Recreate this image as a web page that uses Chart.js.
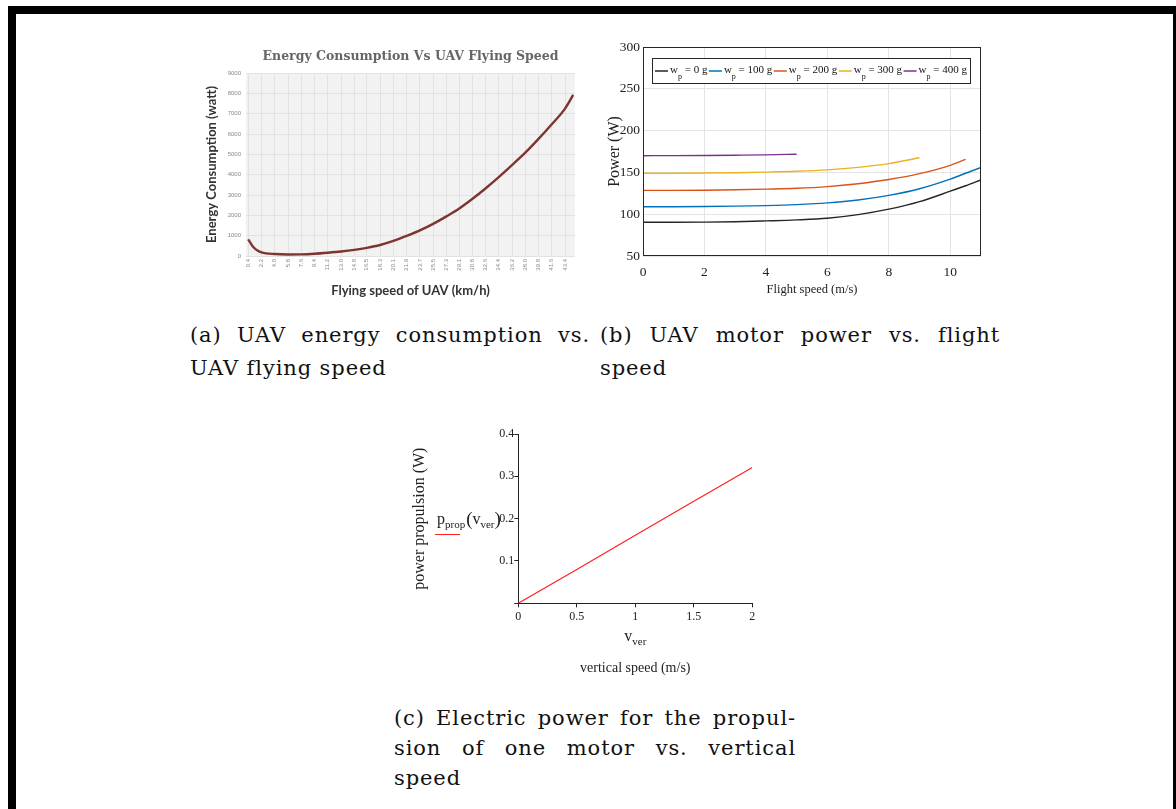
<!DOCTYPE html>
<html lang="en">
<head>
<meta charset="UTF-8">
<title>UAV power figures</title>
<script src="https://cdn.jsdelivr.net/npm/chart.js"></script>
<style>
  body { margin: 0; background: #fff; width: 1176px; height: 809px; overflow: hidden; position: relative; }
  .frame { position: absolute; left: 8px; top: 6px; width: 1157px; height: 830px; border: 8px solid #000; border-bottom: none; }
  canvas { position: absolute; }
  .cap { position: absolute; font-family: 'DejaVu Serif', serif; font-size: 21px; letter-spacing: 0.9px; line-height: 24px; color: #111; white-space: nowrap; }
  .just { text-align: justify; text-align-last: justify; white-space: normal; }
</style>
</head>
<body>
<div class="frame"></div>

<canvas id="chartA" width="390" height="262" style="left:195px;top:40px"></canvas>
<canvas id="chartB" width="395" height="265" style="left:595px;top:35px"></canvas>
<canvas id="chartC" width="370" height="260" style="left:400px;top:425px"></canvas>

<div class="cap just" style="left:190px;top:323px;width:400px">(a) UAV energy consumption vs.</div>
<div class="cap" style="left:190px;top:356px">UAV flying speed</div>
<div class="cap just" style="left:600px;top:323px;width:400px">(b) UAV motor power vs. flight</div>
<div class="cap" style="left:600px;top:356px">speed</div>
<div class="cap just" style="left:394px;top:706px;width:402px">(c) Electric power for the propul-</div>
<div class="cap just" style="left:394px;top:736px;width:402px">sion of one motor vs. vertical</div>
<div class="cap" style="left:394px;top:766px">speed</div>

<script>
// (a) energy consumption vs flying speed
const speedTicksA = [0.4, 2.2, 4.0, 5.8, 7.6, 9.4, 11.2, 13.0, 14.8, 16.5, 18.3, 20.1, 21.9,
                     23.7, 25.5, 27.3, 29.1, 30.8, 32.6, 34.4, 36.2, 38.0, 39.8, 41.6, 43.4];
const speedA = [0.4, 1.0, 1.6, 2.2, 4.0, 5.8, 7.6, 9.4, 11.2, 13.0, 14.8, 16.5, 18.3, 20.1, 21.9,
                23.7, 25.5, 27.3, 29.1, 30.8, 32.6, 34.4, 36.2, 38.0, 39.8, 41.6, 43.4, 44.5];
const energyA = [820, 480, 280, 180, 95, 75, 80, 110, 160, 220, 300, 400, 540, 740, 990,
                 1260, 1580, 1950, 2350, 2800, 3320, 3880, 4470, 5080, 5760, 6480, 7250, 7920];

// (b) motor power vs flight speed, one series per payload
const speedB = [0, 1, 2, 3, 4, 5, 6, 7, 8, 9, 10, 10.5, 11];
const payloadB = [0, 100, 200, 300, 400];
const power0g   = [90.3, 90.3, 90.5, 91, 92, 93.2, 95.2, 99.5, 106, 115, 127.5, 134, 141];
const power100g = [109, 109, 109.2, 109.6, 110.3, 111.5, 113.5, 117, 122.5, 130.5, 142, 149, 156];
const power200g = [128.5, 128.5, 128.7, 129.2, 130, 131, 133, 136.5, 141.5, 148.5, 158.5, 165.5, null];
const power300g = [149, 149, 149.2, 149.6, 150.3, 151.3, 153, 156, 160.5, 167.5, null, null, null];
const power400g = [170, 170.1, 170.3, 170.6, 171, 171.8, null, null, null, null, null, null, null];
const colorsB = ['#262626', '#0072BD', '#D95319', '#EDB120', '#7E2F8E'];

// (c) propulsion power vs vertical speed
const vVer = [0, 0.5, 1, 1.5, 2];
const pProp = [0, 0.08, 0.161, 0.241, 0.321];

Chart.defaults.animation = false;
Chart.defaults.color = '#222';

function pts(xs, ys) {
    return xs.map((x, i) => ({ x: x, y: ys[i] }));
}

const plotBg = {
    id: 'plotBg',
    beforeDraw(chart) {
        const a = chart.chartArea;
        chart.ctx.save();
        chart.ctx.fillStyle = '#f2f2f2';
        chart.ctx.fillRect(a.left, a.top, a.right - a.left, a.bottom - a.top);
        chart.ctx.restore();
    }
};

new Chart(document.getElementById('chartA'), {
    type: 'line',
    data: {
        datasets: [{
            data: pts(speedA, energyA),
            borderColor: '#7d3530',
            borderWidth: 2.4,
            pointRadius: 0,
            cubicInterpolationMode: 'monotone'
        }]
    },
    options: {
        responsive: false,
        layout: { padding: { right: 10 } },
        plugins: {
            legend: { display: false },
            tooltip: { enabled: false },
            title: {
                display: true,
                fullSize: false,
                text: 'Energy Consumption Vs UAV Flying Speed',
                color: '#666',
                font: { family: 'DejaVu Serif', size: 12.5, weight: 'bold' },
                padding: { top: 9, bottom: 9 }
            }
        },
        scales: {
            x: {
                type: 'linear',
                min: 0.1,
                max: 44.75,
                afterFit: s => { s.height = 46; },
                afterBuildTicks: s => { s.ticks = speedTicksA.map(v => ({ value: v })); },
                grid: { color: '#e2e2e2', drawTicks: false },
                border: { display: false },
                ticks: {
                    autoSkip: false,
                    minRotation: 90,
                    maxRotation: 90,
                    padding: 3,
                    color: '#888',
                    font: { family: 'Liberation Sans', size: 6 },
                    callback: v => v.toFixed(1)
                },
                title: {
                    display: true,
                    text: 'Flying speed of UAV (km/h)',
                    color: '#333',
                    font: { family: 'Lato', size: 13, weight: 'bold' },
                    padding: { top: 0, bottom: 3.2 }
                }
            },
            y: {
                min: 0,
                max: 9000,
                afterFit: s => { s.width = 51; },
                grid: { color: '#e2e2e2', drawTicks: false },
                border: { display: false },
                ticks: {
                    stepSize: 1000,
                    padding: 5,
                    color: '#888',
                    font: { family: 'Liberation Sans', size: 6 },
                    callback: v => String(v)
                },
                title: {
                    display: true,
                    text: 'Energy Consumption (watt)',
                    color: '#333',
                    font: { family: 'Lato', size: 13, weight: 'bold' },
                    padding: { top: 9.2, bottom: 0 }
                }
            }
        }
    },
    plugins: [plotBg]
});

// box, and a one-row legend with a subscript p, drawn inside the axes
const boxLegend = {
    id: 'boxLegend',
    afterDraw(chart) {
        const ctx = chart.ctx;
        const a = chart.chartArea;
        ctx.save();
        ctx.strokeStyle = '#262626';
        ctx.lineWidth = 1;
        ctx.strokeRect(a.left + 0.5, a.top + 0.5, a.right - a.left - 1, a.bottom - a.top - 1);

        const bx = a.left + 9, by = a.top + 11, bw = 318, bh = 25;
        const big = '11px "Liberation Serif"', small = '8px "Liberation Serif"';
        const items = chart.data.datasets.map((ds, i) => {
            ctx.font = big;
            const w1 = ctx.measureText('w').width;
            const rest = ' = ' + payloadB[i] + ' g';
            const w3 = ctx.measureText(rest).width;
            ctx.font = small;
            const w2 = ctx.measureText('p').width;
            return { color: ds.borderColor, rest: rest, w1: w1, w2: w2, w3: w3, width: 15 + w1 + w2 + w3 };
        });
        const total = items.reduce((s, it) => s + it.width, 0);
        const gap = (bw - 6 - total) / (items.length - 1);

        ctx.fillStyle = '#fff';
        ctx.fillRect(bx, by, bw, bh);
        ctx.strokeStyle = '#262626';
        ctx.strokeRect(bx + 0.5, by + 0.5, bw, bh);

        const mid = by + bh / 2 + 0.5;
        let x = bx + 3;
        items.forEach(it => {
            ctx.strokeStyle = it.color;
            ctx.lineWidth = 1.5;
            ctx.beginPath();
            ctx.moveTo(x, mid);
            ctx.lineTo(x + 13, mid);
            ctx.stroke();
            let tx = x + 15;
            ctx.fillStyle = '#111';
            ctx.textBaseline = 'alphabetic';
            ctx.font = big;
            ctx.fillText('w', tx, mid + 2);
            tx += it.w1;
            ctx.font = small;
            ctx.fillText('p', tx, mid + 8);
            tx += it.w2;
            ctx.font = big;
            ctx.fillText(it.rest, tx, mid + 2);
            x += it.width + gap;
        });
        ctx.restore();
    }
};

const powerB = [power0g, power100g, power200g, power300g, power400g];

new Chart(document.getElementById('chartB'), {
    type: 'line',
    data: {
        datasets: powerB.map((vals, i) => ({
            label: 'wp = ' + payloadB[i] + ' g',
            data: pts(speedB, vals),
            borderColor: colorsB[i],
            borderWidth: 1.4,
            pointRadius: 0,
            spanGaps: false,
            cubicInterpolationMode: 'monotone'
        }))
    },
    options: {
        responsive: false,
        layout: { padding: { top: 12, right: 9 } },
        plugins: { legend: { display: false }, tooltip: { enabled: false } },
        scales: {
            x: {
                type: 'linear',
                min: 0,
                max: 11,
                afterFit: s => { s.height = 44; },
                grid: { color: '#e4e4e4', drawTicks: false },
                border: { display: false },
                ticks: {
                    stepSize: 2,
                    includeBounds: false,
                    padding: 8,
                    color: '#222',
                    font: { family: 'Liberation Serif', size: 13.5 }
                },
                title: {
                    display: true,
                    text: 'Flight speed (m/s)',
                    color: '#222',
                    font: { family: 'Liberation Serif', size: 12.5 },
                    padding: { top: 0, bottom: 2.5 }
                }
            },
            y: {
                min: 50,
                max: 300,
                afterFit: s => { s.width = 48; },
                grid: { color: '#e4e4e4', drawTicks: false },
                border: { display: false },
                ticks: {
                    stepSize: 50,
                    padding: 3,
                    color: '#222',
                    font: { family: 'Liberation Serif', size: 13.5 }
                },
                title: {
                    display: true,
                    text: 'Power (W)',
                    color: '#222',
                    font: { family: 'Liberation Serif', size: 16 },
                    padding: { top: 10.4, bottom: 0 }
                }
            }
        }
    },
    plugins: [boxLegend]
});

// math-style labels with subscripts: p_prop(v_ver) and v_ver
function drawSub(ctx, base, sub, x, y, size) {
    ctx.font = size + 'px "Liberation Serif"';
    ctx.fillText(base, x, y);
    x += ctx.measureText(base).width;
    ctx.font = Math.round(size * 0.7) + 'px "Liberation Serif"';
    ctx.fillText(sub, x, y + 4);
    return x + ctx.measureText(sub).width;
}

const mathLabels = {
    id: 'mathLabels',
    afterDraw(chart) {
        const ctx = chart.ctx;
        const a = chart.chartArea;
        ctx.save();
        ctx.fillStyle = '#222';
        ctx.textBaseline = 'alphabetic';
        // function label on the y side
        const ly = a.top + 90;
        let x = 37;
        x = drawSub(ctx, 'p', 'prop', x, ly, 16);
        ctx.font = '19px "Liberation Serif"';
        ctx.fillText('(', x + 1, ly + 1);
        x += ctx.measureText('(').width + 1;
        x = drawSub(ctx, 'v', 'ver', x, ly, 16);
        ctx.font = '19px "Liberation Serif"';
        ctx.fillText(')', x, ly + 1);
        ctx.strokeStyle = chart.data.datasets[0].borderColor;
        ctx.lineWidth = 1;
        ctx.beginPath();
        ctx.moveTo(35, ly + 10.5);
        ctx.lineTo(60, ly + 10.5);
        ctx.stroke();
        // variable label under the x axis
        const cx = chart.scales.x.getPixelForValue(1) - 11;
        drawSub(ctx, 'v', 'ver', cx, a.bottom + 38, 16);
        ctx.restore();
    }
};

new Chart(document.getElementById('chartC'), {
    type: 'line',
    data: {
        datasets: [{
            data: pts(vVer, pProp),
            borderColor: '#ff2020',
            borderWidth: 1.2,
            pointRadius: 0
        }]
    },
    options: {
        responsive: false,
        layout: { padding: { top: 9, right: 17.7 } },
        plugins: { legend: { display: false }, tooltip: { enabled: false } },
        scales: {
            x: {
                type: 'linear',
                min: 0,
                max: 2,
                afterFit: s => { s.height = 81.7; },
                grid: { drawOnChartArea: false, tickLength: 4, tickColor: '#222' },
                border: { color: '#222', width: 1 },
                ticks: {
                    stepSize: 0.5,
                    padding: 2,
                    color: '#222',
                    font: { family: 'Liberation Serif', size: 12 },
                    callback: v => String(+v.toFixed(1))
                },
                title: {
                    display: true,
                    text: 'vertical speed (m/s)',
                    color: '#222',
                    font: { family: 'Liberation Serif', size: 14 },
                    padding: { top: 0, bottom: 8.6 }
                }
            },
            y: {
                min: 0,
                max: 0.4,
                afterFit: s => { s.width = 118.3; },
                grid: { drawOnChartArea: false, tickLength: 4, tickColor: '#222' },
                border: { color: '#222', width: 1 },
                ticks: {
                    stepSize: 0.1,
                    padding: 0,
                    color: '#222',
                    font: { family: 'Liberation Serif', size: 12 },
                    callback: v => (v === 0 ? '' : v.toFixed(1))
                },
                title: {
                    display: true,
                    text: 'power propulsion (W)',
                    color: '#222',
                    font: { family: 'Liberation Serif', size: 16 },
                    padding: { top: 10.4, bottom: 0 }
                }
            }
        }
    },
    plugins: [mathLabels]
});
</script>
</body>
</html>
